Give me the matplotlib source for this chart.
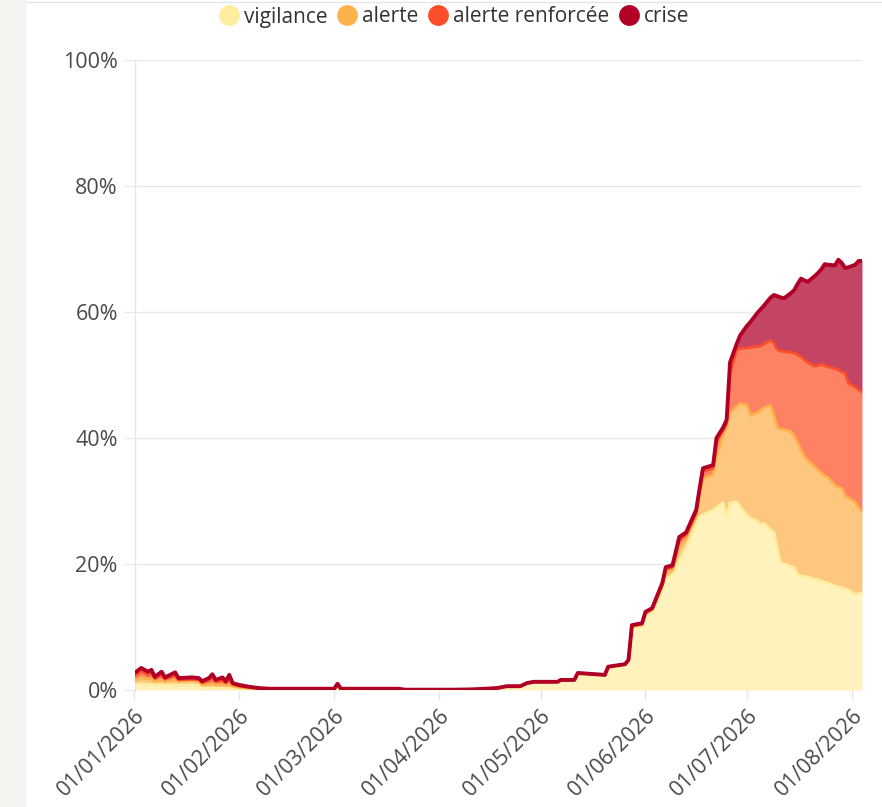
import numpy as np
import pandas as pd
import matplotlib
matplotlib.use("Agg")
import matplotlib.pyplot as plt
from matplotlib.lines import Line2D
from matplotlib.patches import Rectangle

plt.rcParams['font.family'] = ['Open Sans', 'DejaVu Sans']

# ---------------- data (percent of territory per level) ----------------
dates = [
    "2026-01-01", "2026-01-03", "2026-01-05", "2026-01-06", "2026-01-07", "2026-01-09",
    "2026-01-10", "2026-01-13", "2026-01-14", "2026-01-18", "2026-01-20", "2026-01-21",
    "2026-01-23", "2026-01-24", "2026-01-25", "2026-01-27", "2026-01-28", "2026-01-29",
    "2026-01-30", "2026-02-01", "2026-02-04", "2026-02-07", "2026-02-10", "2026-03-01",
    "2026-03-02", "2026-03-03", "2026-03-20", "2026-03-22", "2026-04-05", "2026-04-11",
    "2026-04-18", "2026-04-21", "2026-04-25", "2026-04-27", "2026-04-29", "2026-05-06",
    "2026-05-07", "2026-05-11", "2026-05-12", "2026-05-20", "2026-05-21", "2026-05-26",
    "2026-05-27", "2026-05-28", "2026-05-31", "2026-06-01", "2026-06-03", "2026-06-06",
    "2026-06-07", "2026-06-09", "2026-06-11", "2026-06-13", "2026-06-16", "2026-06-17",
    "2026-06-18", "2026-06-21", "2026-06-22", "2026-06-24", "2026-06-25", "2026-06-26",
    "2026-06-28", "2026-06-29", "2026-07-01", "2026-07-02", "2026-07-04", "2026-07-05",
    "2026-07-06", "2026-07-08", "2026-07-09", "2026-07-10", "2026-07-11", "2026-07-12",
    "2026-07-14", "2026-07-15", "2026-07-16", "2026-07-17", "2026-07-18", "2026-07-19",
    "2026-07-21", "2026-07-22", "2026-07-23", "2026-07-24", "2026-07-25", "2026-07-27",
    "2026-07-28", "2026-07-29", "2026-07-30", "2026-07-31", "2026-08-01", "2026-08-02",
    "2026-08-03", "2026-08-04",
]

vigilance = [
    0.8, 1.0, 0.9, 0.9, 0.8, 0.8,
    0.8, 0.8, 0.8, 0.8, 0.7, 0.3,
    0.3, 0.3, 0.3, 0.3, 0.3, 0.3,
    0.3, 0.2, 0.1, 0.1, 0.1, 0.1,
    0.5, 0.1, 0.1, 0.05, 0.05, 0.1,
    0.3, 0.6, 0.6, 1.1, 1.3, 1.3,
    1.6, 1.6, 2.5, 2.2, 3.5, 3.9,
    4.6, 9.9, 10.1, 11.8, 12.3, 15.8,
    17.6, 18.2, 20.6, 22.5, 26.5, 27.5,
    27.8, 28.6, 29.0, 29.7, 27.5, 29.7,
    29.9, 29.0, 27.8, 27.3, 26.8, 26.2,
    26.5, 25.4, 25.0, 22.2, 20.2, 20.0,
    19.6, 19.4, 18.3, 18.1, 18.0, 17.9,
    17.6, 17.5, 17.3, 17.1, 17.0, 16.5,
    16.4, 16.2, 16.0, 15.9, 15.5, 15.1,
    15.3, 15.4,
]

alerte = [
    0.7, 1.0, 0.8, 0.9, 0.6, 0.8,
    0.6, 0.8, 0.6, 0.7, 0.7, 0.5,
    0.6, 0.7, 0.5, 0.5, 0.4, 0.5,
    0.3, 0.2, 0.2, 0.1, 0.05, 0.05,
    0.2, 0.05, 0.05, 0.0, 0.0, 0.0,
    0.0, 0.0, 0.0, 0.0, 0.0, 0.0,
    0.0, 0.0, 0.2, 0.2, 0.2, 0.2,
    0.1, 0.2, 0.2, 0.3, 0.4, 0.7,
    1.1, 0.8, 2.1, 1.5, 1.0, 3.5,
    5.7, 5.6, 8.0, 10.8, 14.2, 14.3,
    15.1, 16.5, 17.4, 16.3, 17.2, 18.2,
    18.3, 19.8, 18.5, 19.4, 21.2, 21.3,
    21.4, 20.8, 20.9, 19.9, 19.0, 18.5,
    17.8, 17.4, 17.2, 16.9, 16.7, 16.0,
    15.8, 15.8, 14.8, 14.6, 14.7, 14.7,
    13.6, 12.9,
]

alerte_renforcee = [
    0.7, 1.0, 0.7, 0.9, 0.4, 0.8,
    0.3, 0.7, 0.2, 0.2, 0.2, 0.3,
    0.6, 0.9, 0.5, 0.7, 0.4, 1.0,
    0.3, 0.2, 0.1, 0.05, 0.05, 0.05,
    0.2, 0.05, 0.05, 0.0, 0.0, 0.0,
    0.0, 0.0, 0.0, 0.0, 0.0, 0.0,
    0.0, 0.0, 0.0, 0.0, 0.0, 0.0,
    0.05, 0.1, 0.2, 0.2, 0.2, 0.3,
    0.5, 0.5, 1.1, 0.6, 0.6, 0.6,
    1.2, 1.0, 2.4, 0.7, 0.6, 6.3,
    9.0, 8.7, 9.1, 10.8, 10.5, 10.2,
    10.1, 10.3, 11.5, 12.4, 12.4, 12.4,
    12.6, 13.3, 14.0, 14.9, 15.4, 15.6,
    16.0, 16.6, 17.2, 17.5, 17.6, 18.5,
    18.6, 18.5, 19.5, 18.2, 18.2, 18.3,
    18.8, 19.0,
]

crise = [
    0.5, 0.5, 0.5, 0.5, 0.3, 0.5,
    0.3, 0.5, 0.3, 0.3, 0.3, 0.3,
    0.4, 0.6, 0.3, 0.5, 0.3, 0.6,
    0.2, 0.2, 0.1, 0.05, 0.0, 0.0,
    0.1, 0.0, 0.0, 0.0, 0.0, 0.0,
    0.0, 0.0, 0.0, 0.0, 0.0, 0.0,
    0.0, 0.0, 0.0, 0.0, 0.0, 0.0,
    0.05, 0.1, 0.1, 0.1, 0.1, 0.2,
    0.3, 0.3, 0.5, 0.4, 0.5, 0.4,
    0.5, 0.5, 0.6, 0.5, 0.6, 1.7,
    1.0, 2.1, 3.5, 4.0, 5.3, 5.8,
    6.1, 6.8, 7.7, 8.5, 8.5, 8.5,
    9.4, 10.0, 11.3, 12.4, 12.6, 12.8,
    14.3, 14.7, 15.1, 16.1, 16.2, 16.4,
    17.5, 17.3, 16.7, 18.4, 18.9, 19.4,
    20.4, 20.8,
]

series_names = ["vigilance", "alerte", "alerte renforcée", "crise"]
line_colors = ["#ffeda0", "#feb24c", "#fc4e2a", "#b10026"]
fill_colors = ["#fff2bd", "#fdc780", "#fd8163", "#c44463"]

tick_dates = ["2026-01-01", "2026-02-01", "2026-03-01", "2026-04-01",
              "2026-05-01", "2026-06-01", "2026-07-01", "2026-08-01"]
tick_labels = ["01/01/2026", "01/02/2026", "01/03/2026", "01/04/2026",
               "01/05/2026", "01/06/2026", "01/07/2026", "01/08/2026"]
y_ticks = [0, 20, 40, 60, 80, 100]
y_labels = ["0%", "20%", "40%", "60%", "80%", "100%"]

# ---------------- figure ----------------
W, H = 882, 807
fig = plt.figure(figsize=(W / 100, H / 100), dpi=100)
fig.patch.set_facecolor("white")

# left grey strip
fig.add_artist(Rectangle((0, 0), 26 / W, 1, transform=fig.transFigure,
                         facecolor="#f4f4f0", edgecolor="none", zorder=0))
fig.add_artist(Line2D([26 / W, 1], [1 - 2 / H, 1 - 2 / H], transform=fig.transFigure,
                      color="#e6e6e6", lw=1))

ax_left, ax_right = 134.5 / W, 862 / W
ax_bottom, ax_top = 1 - 690 / H, 1 - 60 / H
ax = fig.add_axes([ax_left, ax_bottom, ax_right - ax_left, ax_top - ax_bottom])

x = pd.to_datetime(dates)
stack = np.vstack([vigilance, alerte, alerte_renforcee, crise])
tops = np.cumsum(stack, axis=0)
bottoms = np.vstack([np.zeros(len(dates)), tops[:-1]])

lws = [2.0, 2.0, 2.0, 2.8]
for i in range(4):
    ax.fill_between(x, bottoms[i], tops[i], color=fill_colors[i], lw=0, zorder=2 + i)
    ax.plot(x, tops[i], color=line_colors[i], lw=lws[i], zorder=10 + i,
            solid_joinstyle="round", solid_capstyle="round")

ax.set_xlim(pd.Timestamp("2026-01-01"), pd.Timestamp("2026-08-04"))
ax.set_ylim(0, 100)

ax.set_yticks(y_ticks)
ax.set_yticklabels(y_labels)
ax.set_xticks(pd.to_datetime(tick_dates))
ax.set_xticklabels(tick_labels, rotation=45, ha="right", va="top", rotation_mode="anchor")

ax.grid(axis="y", color="#e8e8e8", lw=1, zorder=0)
ax.set_axisbelow(True)
for s in ["top", "right", "bottom"]:
    ax.spines[s].set_visible(False)
ax.spines["left"].set_color("#e6e6e6")
ax.spines["left"].set_linewidth(1)

ax.tick_params(axis="y", length=8, width=1, color="#e8e8e8", pad=4,
               labelsize=15.5, labelcolor="#4a4a4a")
ax.tick_params(axis="x", length=7, width=1, color="#e6e6e6", pad=4,
               labelsize=15.5, labelcolor="#4a4a4a")

# legend
handles = [Line2D([0], [0], marker="o", ls="none", markersize=15,
                  markerfacecolor=c, markeredgecolor="none") for c in line_colors]
fig.legend(handles, series_names, loc="center", bbox_to_anchor=(454 / W, 1 - 17 / H),
           ncol=4, frameon=False, fontsize=15, handletextpad=0.2,
           columnspacing=0.45, handlelength=1.0, labelcolor="#333333",
           borderaxespad=0, borderpad=0)

fig.savefig("out.png", dpi=100, facecolor="white")
